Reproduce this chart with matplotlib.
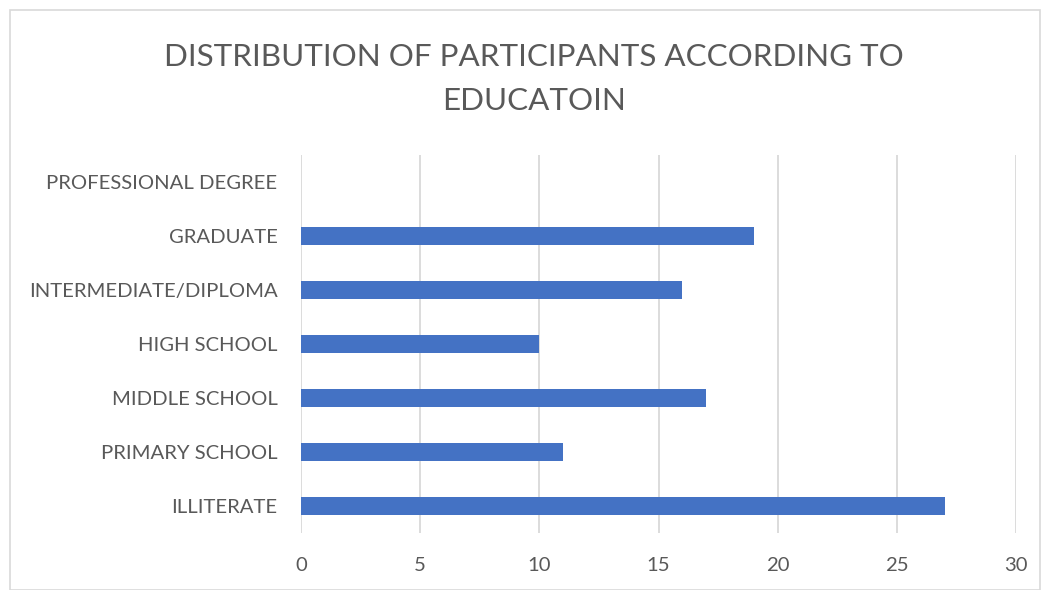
import matplotlib
matplotlib.use("Agg")
import matplotlib.pyplot as plt
from matplotlib.patches import Rectangle

categories = ["ILLITERATE", "PRIMARY SCHOOL", "MIDDLE SCHOOL", "HIGH SCHOOL",
              "INTERMEDIATE/DIPLOMA", "GRADUATE", "PROFESSIONAL DEGREE"]
values = [27, 11, 17, 10, 16, 19, 0]
xticks = [0, 5, 10, 15, 20, 25, 30]
title = "DISTRIBUTION OF PARTICIPANTS ACCORDING TO\nEDUCATOIN"

plt.rcParams['font.family'] = ['Lato', 'DejaVu Sans']
text_color = "#595959"
grid_color = "#D9D9D9"

fig = plt.figure(figsize=(10.45, 5.9), dpi=100)
ax = fig.add_axes([301/1045, 1-533/590, (1016-301)/1045, (533-155)/590])

ypos = list(range(len(categories)))
ax.barh(ypos, values, height=0.33, color="#4472C4", zorder=3)
ax.set_xlim(0, 30)
ax.set_ylim(-0.5, len(categories) - 0.5)
ax.set_xticks(xticks)
ax.set_xticklabels([str(t) for t in xticks])
ax.set_yticks(ypos)
ax.set_yticklabels(categories)
ax.tick_params(axis='both', length=0, colors=text_color, labelsize=14.6)
ax.tick_params(axis='x', pad=17)
ax.tick_params(axis='y', pad=17)
ax.grid(axis='x', color=grid_color, linewidth=1.3, zorder=0)
for s in ax.spines.values():
    s.set_visible(False)

fig.text(534/1045, 1-79/590, title, ha='center', va='center', fontsize=22.6,
         color=text_color, linespacing=1.7)

fig.patches.append(Rectangle((10/1045, 0), (1040-10)/1045, 1-10/590,
                             transform=fig.transFigure, fill=False,
                             edgecolor=grid_color, linewidth=1.2))

fig.savefig("out.png", dpi=100)
